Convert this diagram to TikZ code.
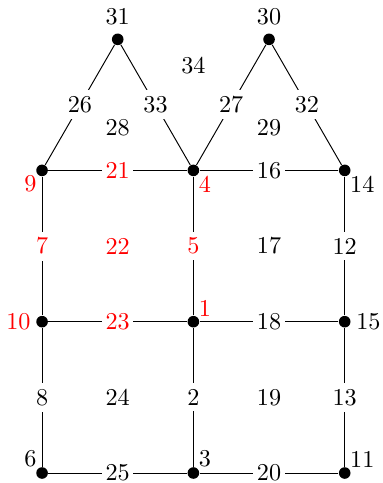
\documentclass[tikz,border=0pt]{standalone}
\usepackage{tikz}
\usetikzlibrary{positioning}

\begin{document}
\begin{tikzpicture}[x=2.2cm, y=2.2cm,
    vtx/.style={circle, fill=black, inner sep=0pt, minimum size=4.8pt},
    elab/.style={fill=white, inner xsep=1.5pt, inner ysep=2.5pt},
    near/.style={label distance=-2.5pt},
    every label/.style={inner sep=2pt}]
  \useasboundingbox (-0.278,-0.066) rectangle (2.247,3.126);

  %% Vertices
  \node[vtx, label={[label distance=1.2pt]above:31}] (v31) at (0.5,2.866) {};
  \node[vtx, label={[label distance=1.2pt]above:30}] (v30) at (1.5,2.866) {};
  \node[vtx, label={[red,near]below left:9}] (v9) at (0,2) {};
  \node[vtx, label={[red,near]below right:4}] (v4) at (1,2) {};
  \node[vtx, label={[near]below right:14}] (v14) at (2,2) {};
  \node[vtx, label={[red]left:10}] (v10) at (0,1) {};
  \node[vtx, label={[red,near]above right:1}] (v1) at (1,1) {};
  \node[vtx, label=right:15] (v15) at (2,1) {};
  \node[vtx, label={[near]above left:6}] (v6) at (0,0) {};
  \node[vtx, label={[near]above right:3}] (v3) at (1,0) {};
  \node[vtx, label={[near]above right:11}] (v11) at (2,0) {};

  %% Edges (label in the middle)
  \foreach \a/\b/\l/\c in {v31/v9/26/black, v31/v4/33/black,
      v30/v4/27/black, v30/v14/32/black,
      v9/v4/21/red, v4/v14/16/black,
      v9/v10/7/red, v4/v1/5/red, v14/v15/12/black,
      v10/v1/23/red, v1/v15/18/black,
      v10/v6/8/black, v1/v3/2/black, v15/v11/13/black,
      v6/v3/25/black, v3/v11/20/black}{
    \draw (\a) -- node[elab, text=\c]{\l} (\b);
  }

  %% Faces
  \node (f34) at (1,2.69) {34};
  \node (f28) at (0.5,2.28) {28};
  \node (f29) at (1.5,2.28) {29};
  \node[red] (f22) at (0.5,1.5) {22};
  \node (f17) at (1.5,1.5) {17};
  \node (f24) at (0.5,0.5) {24};
  \node (f19) at (1.5,0.5) {19};

\end{tikzpicture}
\end{document}
